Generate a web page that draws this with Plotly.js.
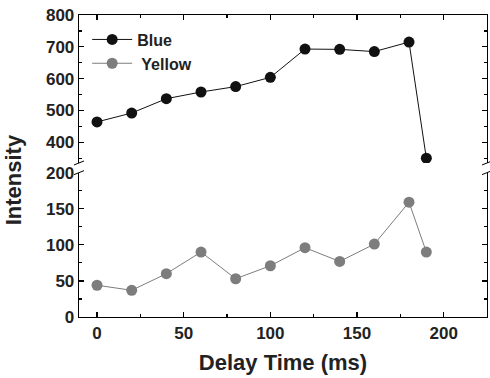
<!DOCTYPE html>
<html>
<head>
<meta charset="utf-8">
<script src="https://cdn.plot.ly/plotly-3.0.1.min.js"></script>
<style>html,body{margin:0;padding:0;background:#fff;}#chart{width:490px;height:378px;}</style>
</head>
<body>
<div id="chart"></div>
<script>
var delayTime = [0, 20, 40, 60, 80, 100, 120, 140, 160, 180, 190];
var blueIntensity = [464, 492, 537, 558, 575, 604, 693, 692, 685, 715, 350];
var yellowIntensity = [44, 37, 60, 90, 53, 71, 96, 77, 101, 159, 90];
var xTicks = [0, 50, 100, 150, 200];
var lowerTicks = [0, 50, 100, 150, 200];
var upperTicks = [400, 500, 600, 700, 800];

var FONT = "Liberation Sans, Arial, Helvetica, sans-serif";
var BLACK = "#111111";
var GRAY = "#7d7d7d";

var traces = [
  {
    x: delayTime, y: blueIntensity, xaxis: "x2", yaxis: "y2",
    name: "Blue", mode: "lines+markers",
    line: {color: BLACK, width: 1},
    marker: {color: BLACK, size: 11}
  },
  {
    x: delayTime, y: yellowIntensity, xaxis: "x", yaxis: "y",
    name: " Yellow", mode: "lines+markers",
    line: {color: GRAY, width: 1},
    marker: {color: GRAY, size: 11}
  }
];

var axisCommon = {
  showline: true, linecolor: "#000", linewidth: 1.3,
  ticks: "inside", ticklen: 5, tickwidth: 1.2, tickcolor: "#000",
  showgrid: false, zeroline: false,
  tickfont: {family: FONT, size: 17, color: "#222", weight: "bold"}
};

function merge(a, b) { var o = {}; for (var k in a) o[k] = a[k]; for (var k2 in b) o[k2] = b[k2]; return o; }

var layout = {
  width: 490, height: 378,
  margin: {l: 79, r: 3, t: 15, b: 61},
  paper_bgcolor: "#fff", plot_bgcolor: "#fff",
  showlegend: true,
  legend: {
    x: 0.02, y: 0.975, xanchor: "left", yanchor: "top",
    bgcolor: "rgba(0,0,0,0)", borderwidth: 0,
    font: {family: FONT, size: 16, color: "#222", weight: "bold"},
    itemwidth: 40, tracegroupgap: 0
  },
  xaxis: merge(axisCommon, {
    anchor: "y", range: [-10.4, 225],
    tickmode: "array", tickvals: xTicks,
    minor: {dtick: 25, tick0: 0, ticks: "inside", ticklen: 3, tickcolor: "#000"},
    title: {text: "Delay Time (ms)", font: {family: FONT, size: 22, color: "#222", weight: "bold"}, standoff: 13}
  }),
  xaxis2: merge(axisCommon, {
    anchor: "y2", matches: "x", side: "top", showticklabels: false,
    range: [-10.4, 225],
    tickmode: "array", tickvals: xTicks,
    minor: {dtick: 25, tick0: 0, ticks: "inside", ticklen: 3, tickcolor: "#000"}
  }),
  yaxis: merge(axisCommon, {
    domain: [0, 0.478], range: [0, 200], mirror: "ticks",
    tickmode: "array", tickvals: lowerTicks,
    minor: {dtick: 25, tick0: 0, ticks: "inside", ticklen: 3, tickcolor: "#000"}
  }),
  yaxis2: merge(axisCommon, {
    domain: [0.51, 1], range: [335, 800], mirror: "ticks",
    tickmode: "array", tickvals: upperTicks,
    minor: {dtick: 50, tick0: 0, ticks: "inside", ticklen: 3, tickcolor: "#000"}
  }),
  annotations: [{
    text: "Intensity", textangle: -90, showarrow: false,
    xref: "paper", yref: "paper", x: -0.16, y: 0.455,
    xanchor: "center", yanchor: "middle",
    font: {family: FONT, size: 22, color: "#222", weight: "bold"}
  }],
  shapes: [0, 1].reduce(function (acc, px) {
    [0.51, 0.478].forEach(function (py) {
      acc.push({type: "line", xref: "paper", yref: "paper",
        xsizemode: "pixel", xanchor: px, x0: -5, x1: 5,
        ysizemode: "pixel", yanchor: py, y0: -2, y1: 2,
        line: {color: "#000", width: 1}});
    });
    return acc;
  }, [])
};

Plotly.newPlot("chart", traces, layout, {displayModeBar: false, staticPlot: true});
</script>
</body>
</html>
